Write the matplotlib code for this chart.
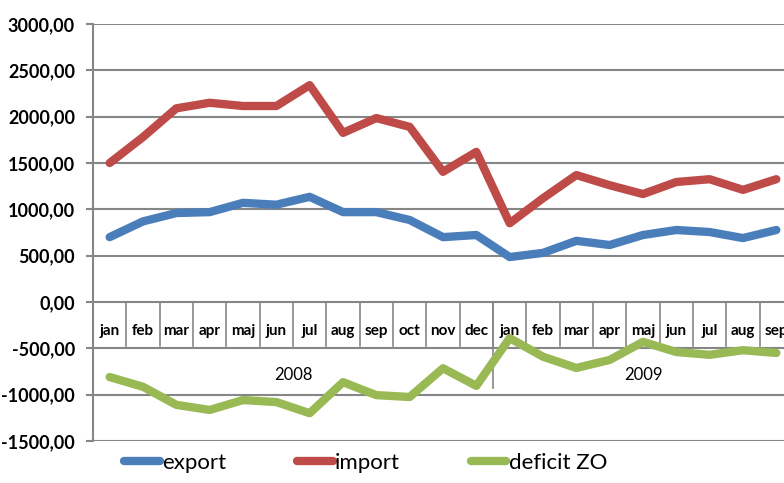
import matplotlib
matplotlib.use("Agg")
import matplotlib.pyplot as plt
from matplotlib.lines import Line2D

months = ["jan", "feb", "mar", "apr", "maj", "jun", "jul", "aug", "sep", "oct", "nov", "dec",
          "jan", "feb", "mar", "apr", "maj", "jun", "jul", "aug", "sep"]
years = ["2008", "2009"]
year_counts = [12, 9]

export = [700, 870, 960, 970, 1070, 1050, 1135, 970, 970, 885, 700, 723,
          485, 530, 660, 615, 723, 777, 755, 690, 777]
imports = [1500, 1780, 2090, 2150, 2115, 2115, 2340, 1825, 1985, 1890, 1405, 1620,
           850, 1120, 1370, 1260, 1165, 1295, 1325, 1210, 1325]
deficit = [-810, -915, -1110, -1165, -1058, -1080, -1200, -865, -1005, -1025, -715, -905,
           -390, -590, -712, -625, -430, -540, -570, -520, -550]

yticks = [-1500, -1000, -500, 0, 500, 1000, 1500, 2000, 2500, 3000]

FONT = "Lato"
plt.rcParams["font.family"] = [FONT, "DejaVu Sans"]

W, H = 784, 483
fig = plt.figure(figsize=(W / 100, H / 100), dpi=100)
ax = fig.add_axes([93 / W, 42 / H, 700 / W, 417 / H])

n = len(months)
x = list(range(n))
grid_c = "#868686"

ax.set_xlim(-0.5, n - 0.5)
ax.set_ylim(-1500, 3000)
for v in yticks:
    ax.axhline(v, color=grid_c, lw=1.5, zorder=1)

for sp in ["top", "right", "bottom"]:
    ax.spines[sp].set_visible(False)
ax.spines["left"].set_color(grid_c)
ax.spines["left"].set_linewidth(1.5)
ax.set_yticks(yticks)
ax.set_yticklabels([f"{v:.2f}".replace(".", ",") for v in yticks],
                   fontsize=13, fontweight="bold")
ax.tick_params(axis="y", length=5, width=1.5, color=grid_c, pad=8)
ax.set_xticks([])

# category separators
for i in range(1, n):
    ax.plot([i - 0.5, i - 0.5], [0, -475], color=grid_c, lw=1.2, zorder=1)
bound = year_counts[0] - 0.5
ax.plot([bound, bound], [0, -930], color=grid_c, lw=1.2, zorder=1)

for i, m in enumerate(months):
    ax.text(i, -310, m, ha="center", va="center", fontsize=11, fontweight="bold", zorder=2)
start = 0
for yl, c in zip(years, year_counts):
    ax.text(start + c / 2 - 0.5, -790, yl, ha="center", va="center", fontsize=12, zorder=2)
    start += c

c_exp, c_imp, c_def = "#4a7ebb", "#be4b48", "#98b954"
ax.plot(x, export, color=c_exp, lw=6, solid_joinstyle="round", solid_capstyle="round", zorder=3)
ax.plot(x, imports, color=c_imp, lw=6, solid_joinstyle="round", solid_capstyle="round", zorder=3)
ax.plot(x, deficit, color=c_def, lw=6, solid_joinstyle="round", solid_capstyle="round", zorder=3)

handles = [Line2D([], [], color=c, lw=6, solid_capstyle="round") for c in (c_exp, c_imp, c_def)]
fig.legend(handles, ["export", "import", "deficit ZO"], loc="center left",
           bbox_to_anchor=(104 / W, 1 - 463 / H), ncol=3, frameon=False,
           fontsize=16, handlelength=1.6, handletextpad=0.1, columnspacing=3.2)

fig.savefig("out.png", dpi=100)
